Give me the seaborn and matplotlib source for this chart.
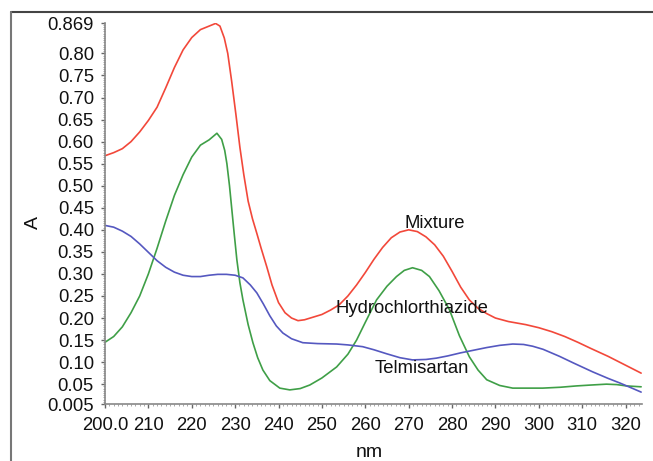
import matplotlib
matplotlib.use("Agg")
import matplotlib.pyplot as plt
from matplotlib.lines import Line2D
from matplotlib.ticker import MultipleLocator
import seaborn as sns
import pandas as pd

# ---- data ----
mix_x = [200, 202, 204, 206, 208, 210, 212, 214, 216, 218, 220, 222, 224, 225.5, 226.5, 227.5, 228.3,
         229.2, 230.2, 231.1, 232, 233, 234, 235, 236, 237.3, 238.5, 240, 241.5, 243, 244.5, 246, 248,
         250, 252, 254, 256, 258, 260, 262, 264, 266, 268, 270, 272, 274, 276, 278, 280, 282, 284, 286,
         288, 290, 293, 297, 300, 303, 306, 309, 312, 316, 320, 323.6]
mix_y = [0.568, 0.575, 0.584, 0.600, 0.622, 0.648, 0.678, 0.722, 0.768, 0.808, 0.836, 0.854, 0.862,
         0.868, 0.862, 0.835, 0.800, 0.737, 0.660, 0.587, 0.525, 0.465, 0.425, 0.392, 0.358, 0.316,
         0.275, 0.235, 0.212, 0.200, 0.194, 0.196, 0.202, 0.208, 0.218, 0.230, 0.250, 0.275, 0.303,
         0.333, 0.360, 0.382, 0.395, 0.400, 0.396, 0.384, 0.366, 0.340, 0.306, 0.270, 0.241, 0.222,
         0.210, 0.200, 0.192, 0.185, 0.178, 0.169, 0.158, 0.145, 0.131, 0.113, 0.093, 0.075]

hct_x = [200, 202, 204, 206, 208, 210, 212, 214, 216, 218, 220, 222, 224, 225.8, 226.9, 227.6, 228.1,
         228.7, 229.2, 229.8, 230.4, 231.1, 231.8, 233, 234.1, 235.2, 236.4, 238, 240.3, 242.6, 245,
         247.2, 250, 253.4, 256, 258, 260, 262.6, 265, 267.2, 269, 270.9, 273, 274.8, 277, 279.4, 281.7,
         284, 286, 288, 291, 294, 300.9, 305, 308.7, 312, 315.6, 318, 320.2, 323.6]
hct_y = [0.145, 0.158, 0.180, 0.212, 0.250, 0.300, 0.358, 0.420, 0.478, 0.525, 0.565, 0.592, 0.604,
         0.619, 0.605, 0.580, 0.550, 0.500, 0.450, 0.390, 0.332, 0.280, 0.241, 0.185, 0.144, 0.110,
         0.082, 0.058, 0.041, 0.037, 0.040, 0.048, 0.064, 0.089, 0.118, 0.150, 0.190, 0.241, 0.272,
         0.294, 0.308, 0.314, 0.308, 0.294, 0.262, 0.219, 0.160, 0.112, 0.082, 0.060, 0.047, 0.041,
         0.041, 0.043, 0.046, 0.048, 0.050, 0.049, 0.046, 0.044]

tel_x = [200, 202, 204, 206, 208, 210, 212, 214, 216, 218, 220, 222, 224, 226, 228, 230, 231.8, 233.5,
         235, 236.5, 238, 239.5, 241, 243, 245.6, 249, 253.4, 256, 259.4, 262, 264.9, 268, 270.9, 274,
         276.4, 279, 282, 285, 288, 291, 294, 296.5, 298.6, 301, 304.8, 308, 312.4, 316, 318.6, 321,
         323.6]
tel_y = [0.410, 0.406, 0.397, 0.385, 0.368, 0.349, 0.330, 0.315, 0.304, 0.297, 0.294, 0.294, 0.297,
         0.299, 0.299, 0.297, 0.291, 0.275, 0.257, 0.232, 0.205, 0.182, 0.166, 0.153, 0.144, 0.142,
         0.141, 0.139, 0.135, 0.128, 0.119, 0.110, 0.105, 0.106, 0.109, 0.114, 0.121, 0.127, 0.133,
         0.138, 0.141, 0.140, 0.136, 0.129, 0.113, 0.098, 0.078, 0.063, 0.053, 0.043, 0.032]

names = ["Mixture", "Hydrochlorthiazide", "Telmisartan"]
colors = ["#f2483a", "#3f9f47", "#5558c0"]

y_ticks = [0.005, 0.05, 0.10, 0.15, 0.20, 0.25, 0.30, 0.35, 0.40, 0.45, 0.50, 0.55, 0.60, 0.65,
           0.70, 0.75, 0.80, 0.869]
y_labels = ["0.005", "0.05", "0.10", "0.15", "0.20", "0.25", "0.30", "0.35", "0.40", "0.45",
            "0.50", "0.55", "0.60", "0.65", "0.70", "0.75", "0.80", "0.869"]
x_ticks = [200, 210, 220, 230, 240, 250, 260, 270, 280, 290, 300, 310, 320]
x_labels = ["200.0", "210", "220", "230", "240", "250", "260", "270", "280", "290", "300", "310", "320"]

# label anchor positions (data coords, baseline)
label_pos = {"Mixture": (276.0, 0.403), "Hydrochlorthiazide": (270.7, 0.212), "Telmisartan": (273.0, 0.075)}

df = pd.concat([
    pd.DataFrame({"nm": mix_x, "A": mix_y, "series": names[0]}),
    pd.DataFrame({"nm": hct_x, "A": hct_y, "series": names[1]}),
    pd.DataFrame({"nm": tel_x, "A": tel_y, "series": names[2]}),
], ignore_index=True)

sns.set_theme(style="white")
plt.rcParams["font.family"] = ["Liberation Sans", "DejaVu Sans"]

fig = plt.figure(figsize=(6.53, 4.61), dpi=100)
ax = fig.add_axes([105 / 653, 1 - 404 / 461, (642 - 105) / 653, (404 - 23) / 461])

sns.lineplot(data=df, x="nm", y="A", hue="series", palette=dict(zip(names, colors)),
             estimator=None, sort=True, linewidth=1.2, legend=False, ax=ax)

ax.set_xlim(200, 323.8)
ax.set_ylim(0.005, 0.869)
ax.set_xticks(x_ticks)
ax.set_xticklabels(x_labels)
ax.set_yticks(y_ticks)
ax.set_yticklabels(y_labels)
ax.xaxis.set_minor_locator(MultipleLocator(1))
ax.yaxis.set_minor_locator(MultipleLocator(0.005))
ax.tick_params(axis="both", which="major", direction="out", length=3, width=1, color="#666666",
               labelsize=13.3, labelcolor="#111111", bottom=True, left=True)
ax.tick_params(axis="x", which="major", pad=6)
ax.tick_params(axis="y", which="major", pad=5)
ax.tick_params(axis="both", which="minor", direction="out", length=1.2, width=0.6, color="#999999",
               bottom=True, left=True)
ax.set_xlabel("")
ax.set_ylabel("")
for s in ["top", "right"]:
    ax.spines[s].set_visible(False)
for s in ["left", "bottom"]:
    ax.spines[s].set_color("#888888")
    ax.spines[s].set_linewidth(1.2)

for n in names:
    x, y = label_pos[n]
    ax.text(x, y, n, ha="center", va="baseline", fontsize=13.3, color="#111111")

fig.text(33 / 653, 1 - 222 / 461, "A", rotation=90, ha="center", va="center", fontsize=14,
         color="#111111")
fig.text(369 / 653, 1 - 457 / 461, "nm", ha="center", va="baseline", fontsize=14, color="#111111")

# outer frame (top and left edges)
fig.add_artist(Line2D([11 / 653, 1.0], [1 - 12 / 461, 1 - 12 / 461], transform=fig.transFigure,
                      color="#444444", linewidth=1.5))
fig.add_artist(Line2D([11 / 653, 11 / 653], [0.0, 1 - 12 / 461], transform=fig.transFigure,
                      color="#777777", linewidth=1.5))

fig.savefig("out.png", dpi=100)
